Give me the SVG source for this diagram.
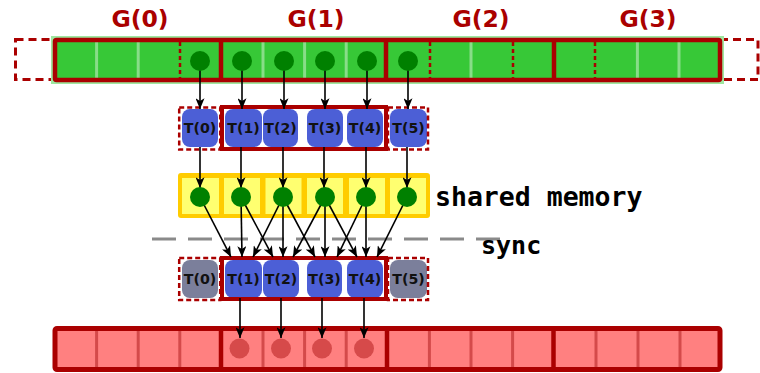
<svg xmlns="http://www.w3.org/2000/svg" width="760" height="373" viewBox="0 0 760 373">
<defs>
<style>
.lbl{font-family:"DejaVu Sans Mono","Liberation Mono",monospace;font-weight:bold}
.sans{font-family:"DejaVu Sans","Liberation Sans",sans-serif;font-weight:bold}
.g{fill:#aa0000;font-size:23.5px;text-anchor:middle}
.t{fill:#111;font-size:14.2px;text-anchor:middle}
.big{fill:#000;}
.tb{fill:#4c5fd6}
.tg{fill:#7b7f9b}
.dash{fill:none;stroke:#aa0000;stroke-width:2.5;stroke-dasharray:5 3}
.solid{fill:none;stroke:#aa0000;stroke-width:4}
.lsep{stroke:#88dd88;stroke-width:3}
.dsep{stroke:#aa0000;stroke-width:2.5;stroke-dasharray:4 3}
.gsep{stroke:#aa0000;stroke-width:4.5}
.rsep{stroke:#d44a4a;stroke-width:3}
.dot{fill:#008000}
.rdot{fill:#d64a4a}
.ybox{fill:#ffff70}
.arr{stroke:#000;stroke-width:1.6;fill:none;marker-end:url(#ah)}
</style>
<marker id="ah" viewBox="0 0 12 10" refX="12" refY="5" markerWidth="12" markerHeight="9" orient="auto" markerUnits="userSpaceOnUse">
<path d="M0,0 L12,5 L0,10 L3,5 z" fill="#000"/>
</marker>
</defs>
<rect width="760" height="373" fill="#fff"/>

<g id="labels-g">
<text class="sans g" x="140" y="27">G(0)</text>
<text class="sans g" x="316" y="27">G(1)</text>
<text class="sans g" x="481" y="27">G(2)</text>
<text class="sans g" x="648" y="27">G(3)</text>
</g>

<g id="global-in">
<rect x="15.5" y="39.5" width="39.5" height="40" class="dash" style="stroke-width:3;stroke-dasharray:8 5"/>
<rect x="720" y="39.5" width="38" height="40" class="dash" style="stroke-width:3;stroke-dasharray:8 5"/>
<rect x="55" y="40" width="665" height="40" fill="none" stroke="#9fe69f" stroke-width="8"/>
<rect x="55" y="40" width="665" height="40" fill="#37c837"/>
<line class="lsep" x1="96.6" y1="42" x2="96.6" y2="78"/>
<line class="lsep" x1="138.2" y1="42" x2="138.2" y2="78"/>
<line class="lsep" x1="263" y1="42" x2="263" y2="78"/>
<line class="lsep" x1="304.6" y1="42" x2="304.6" y2="78"/>
<line class="lsep" x1="346.2" y1="42" x2="346.2" y2="78"/>
<line class="lsep" x1="471" y1="42" x2="471" y2="78"/>
<line class="lsep" x1="637.4" y1="42" x2="637.4" y2="78"/>
<line class="lsep" x1="679" y1="42" x2="679" y2="78"/>
<line class="dsep" x1="180" y1="42" x2="180" y2="78"/>
<line class="dsep" x1="430" y1="42" x2="430" y2="78"/>
<line class="dsep" x1="513" y1="42" x2="513" y2="78"/>
<line class="dsep" x1="595" y1="42" x2="595" y2="78"/>
<line class="gsep" x1="221" y1="40" x2="221" y2="80"/>
<line class="gsep" x1="386" y1="40" x2="386" y2="80"/>
<line class="gsep" x1="554" y1="40" x2="554" y2="80"/>
<rect x="55" y="40" width="665" height="40" fill="none" stroke="#aa0000" stroke-width="4.5" rx="1.5"/>
</g>

<g id="threads-load">
<rect class="tb" x="182" y="109" width="36" height="38" rx="8"/>
<rect class="tb" x="225" y="109" width="37" height="38" rx="8"/>
<rect class="tb" x="263" y="109" width="35" height="38" rx="8"/>
<rect class="tb" x="307" y="109" width="36" height="38" rx="8"/>
<rect class="tb" x="347" y="109" width="36" height="38" rx="8"/>
<rect class="tb" x="390" y="109" width="37" height="38" rx="8"/>
<text class="sans t" x="200" y="133">T(0)</text>
<text class="sans t" x="243.5" y="133">T(1)</text>
<text class="sans t" x="280.5" y="133">T(2)</text>
<text class="sans t" x="325" y="133">T(3)</text>
<text class="sans t" x="365" y="133">T(4)</text>
<text class="sans t" x="408.5" y="133">T(5)</text>
<rect class="dash" x="179.2" y="107.5" width="41" height="42"/>
<rect class="dash" x="388" y="107.5" width="40" height="42"/>
<rect class="solid" x="222" y="107" width="164" height="42"/>
</g>

<g id="shared-memory">
<rect x="178" y="173" width="252" height="45" fill="#ffcc00" rx="3"/>
<rect class="ybox" x="182" y="178" width="37" height="36"/>
<rect class="ybox" x="224" y="178" width="36" height="36"/>
<rect class="ybox" x="265.5" y="178" width="36" height="36"/>
<rect class="ybox" x="307" y="178" width="36" height="36"/>
<rect class="ybox" x="349" y="178" width="36" height="36"/>
<rect class="ybox" x="390" y="178" width="36" height="36"/>
<text class="lbl big" x="435" y="206" style="font-size:26.5px">shared memory</text>
</g>

<g id="sync">
<line x1="152" y1="239" x2="505" y2="239" stroke="#8a8a8a" stroke-width="3" stroke-dasharray="24 12"/>
<text class="lbl big" x="481" y="254" style="font-size:25px">sync</text>
</g>

<g id="threads-compute">
<rect class="tg" x="182" y="260" width="36" height="38" rx="8"/>
<rect class="tb" x="225" y="260" width="37" height="38" rx="8"/>
<rect class="tb" x="263" y="260" width="36" height="38" rx="8"/>
<rect class="tb" x="307" y="260" width="35" height="38" rx="8"/>
<rect class="tb" x="347" y="260" width="36" height="38" rx="8"/>
<rect class="tg" x="390" y="260" width="37" height="38" rx="8"/>
<text class="sans t" x="200" y="284">T(0)</text>
<text class="sans t" x="243.5" y="284">T(1)</text>
<text class="sans t" x="281" y="284">T(2)</text>
<text class="sans t" x="324.5" y="284">T(3)</text>
<text class="sans t" x="365" y="284">T(4)</text>
<text class="sans t" x="408.5" y="284">T(5)</text>
<rect class="dash" x="179.2" y="258" width="41" height="42"/>
<rect class="dash" x="388" y="258" width="40" height="42"/>
<rect class="solid" x="222" y="258" width="164" height="41"/>
</g>

<g id="global-out">
<rect x="55" y="328.5" width="665" height="41" fill="#ff8080"/>
<line class="rsep" x1="96.6" y1="330" x2="96.6" y2="368"/>
<line class="rsep" x1="138.2" y1="330" x2="138.2" y2="368"/>
<line class="rsep" x1="179.8" y1="330" x2="179.8" y2="368"/>
<line class="rsep" x1="263" y1="330" x2="263" y2="368"/>
<line class="rsep" x1="304.6" y1="330" x2="304.6" y2="368"/>
<line class="rsep" x1="346.2" y1="330" x2="346.2" y2="368"/>
<line class="rsep" x1="429.4" y1="330" x2="429.4" y2="368"/>
<line class="rsep" x1="471" y1="330" x2="471" y2="368"/>
<line class="rsep" x1="512.6" y1="330" x2="512.6" y2="368"/>
<line class="rsep" x1="596" y1="330" x2="596" y2="368"/>
<line class="rsep" x1="638" y1="330" x2="638" y2="368"/>
<line class="rsep" x1="680" y1="330" x2="680" y2="368"/>
<line class="gsep" x1="221" y1="328" x2="221" y2="370"/>
<line class="gsep" x1="387" y1="328" x2="387" y2="370"/>
<line class="gsep" x1="553.5" y1="328" x2="553.5" y2="370"/>
<rect x="55" y="328.5" width="665" height="41" fill="none" stroke="#aa0000" stroke-width="5" rx="2"/>
</g>

<g id="connectors">
<line class="arr" x1="200" y1="61" x2="200" y2="109"/>
<line class="arr" x1="242" y1="61" x2="242" y2="109"/>
<line class="arr" x1="284" y1="61" x2="284" y2="109"/>
<line class="arr" x1="325" y1="61" x2="325" y2="109"/>
<line class="arr" x1="367" y1="61" x2="367" y2="109"/>
<line class="arr" x1="408" y1="61" x2="408" y2="109"/>
<line class="arr" x1="200" y1="147" x2="200" y2="188"/>
<line class="arr" x1="241" y1="147" x2="241" y2="188"/>
<line class="arr" x1="283" y1="147" x2="283" y2="188"/>
<line class="arr" x1="324" y1="147" x2="324" y2="188"/>
<line class="arr" x1="366" y1="147" x2="366" y2="188"/>
<line class="arr" x1="407" y1="147" x2="407" y2="188"/>
<line class="arr" x1="200" y1="197" x2="231" y2="257"/>
<line class="arr" x1="241" y1="197" x2="242" y2="257"/>
<line class="arr" x1="241" y1="197" x2="273" y2="257"/>
<line class="arr" x1="283" y1="197" x2="253" y2="257"/>
<line class="arr" x1="283" y1="197" x2="283" y2="257"/>
<line class="arr" x1="283" y1="197" x2="315" y2="257"/>
<line class="arr" x1="325" y1="197" x2="293" y2="257"/>
<line class="arr" x1="325" y1="197" x2="325" y2="257"/>
<line class="arr" x1="325" y1="197" x2="357" y2="257"/>
<line class="arr" x1="366" y1="197" x2="337" y2="257"/>
<line class="arr" x1="366" y1="197" x2="366" y2="257"/>
<line class="arr" x1="407" y1="197" x2="377" y2="257"/>
<line class="arr" x1="240" y1="298" x2="240" y2="338"/>
<line class="arr" x1="281" y1="298" x2="281" y2="338"/>
<line class="arr" x1="322" y1="298" x2="322" y2="338"/>
<line class="arr" x1="364" y1="298" x2="364" y2="338"/>
</g>

<g id="dots-global-in">
<circle class="dot" cx="200" cy="61" r="10"/>
<circle class="dot" cx="242" cy="61" r="10"/>
<circle class="dot" cx="284" cy="61" r="10"/>
<circle class="dot" cx="325" cy="61" r="10"/>
<circle class="dot" cx="367" cy="61" r="10"/>
<circle class="dot" cx="408" cy="61" r="10"/>
</g>
<g id="dots-shared">
<circle class="dot" cx="200" cy="197" r="10"/>
<circle class="dot" cx="241" cy="197" r="10"/>
<circle class="dot" cx="283" cy="197" r="10"/>
<circle class="dot" cx="325" cy="197" r="10"/>
<circle class="dot" cx="366" cy="197" r="10"/>
<circle class="dot" cx="407" cy="197" r="10"/>
</g>
<g id="dots-global-out">
<circle class="rdot" cx="239.5" cy="348.5" r="10"/>
<circle class="rdot" cx="281" cy="348.5" r="10"/>
<circle class="rdot" cx="322" cy="348.5" r="10"/>
<circle class="rdot" cx="364" cy="348.5" r="10"/>
</g>
</svg>
